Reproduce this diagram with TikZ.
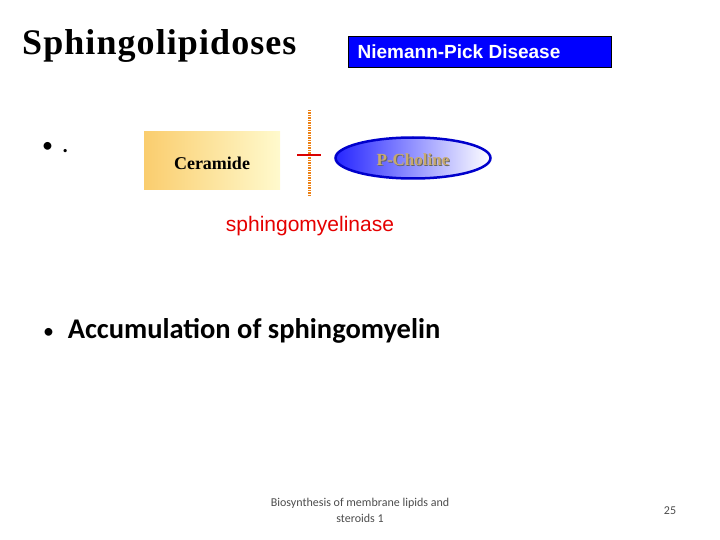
\documentclass[tikz,border=0pt]{standalone}
\usepackage{fontspec}
\setsansfont{Liberation Sans}
\setmainfont{Liberation Serif}
\newfontfamily\calibri{Carlito}
\usetikzlibrary{shapes.geometric}
\definecolor{cerorange}{RGB}{250,205,110}
\definecolor{ceryellow}{RGB}{255,250,205}
\definecolor{chotan}{RGB}{200,170,110}
\begin{document}
\begin{tikzpicture}[x=1pt,y=-1pt]
    \useasboundingbox (0,0) rectangle (720,540);
    % Titel
    \node (title) [anchor=west, inner sep=0pt] at (22,46) {\bfseries\fontsize{36}{40}\selectfont\addfontfeature{LetterSpace=3}Sphingolipidoses};
    \node (disease) [fill=blue, draw=black, minimum width=263pt, minimum height=31pt, inner sep=0pt] at (479.5,51.5) {};
    \node [text=white, font=\sffamily\bfseries\fontsize{19}{22}\selectfont] at (459,52) {Niemann-Pick Disease};
    \node (dot) [anchor=west, inner sep=0pt] at (42,148) {\calibri\fontsize{22}{30}\selectfont •\ \,{\fontsize{27}{30}\selectfont .}};
    % Molekuel
    \node (ceramide) [left color=cerorange, right color=ceryellow, minimum width=136pt, minimum height=58pt, inner sep=0pt] at (212,161) {};
    \node at (212,163) {\bfseries\fontsize{18}{20}\selectfont Ceramide};
    \draw [orange!70!brown, line width=3pt, dash pattern=on 1.5pt off 1pt] (309,110) -- (309,196);
    \draw [red!85!black, line width=2.5pt] (297,155) -- (321,155);
    \node (choline) [ellipse, draw=blue!80!black, line width=2.5pt, left color=blue!85, right color=white,
        minimum width=155pt, minimum height=41pt] at (413,158) {};
    \node [text=black!60] at (414,161) {\bfseries\fontsize{17}{19}\selectfont P-Choline};
    \node [text=chotan] at (413,160) {\bfseries\fontsize{17}{19}\selectfont P-Choline};
    % Enzym
    \node (enzyme) [text=red!90!black, font=\sffamily\fontsize{21}{24}\selectfont] at (310,226) {sphingomyelinase};
    \node (accum) [anchor=west, inner sep=0pt] at (43,331) {\calibri\fontsize{22}{30}\selectfont •\ \ \,{\fontsize{28.5}{30}\selectfont\textbf{Accumulation of sphingomyelin}}};
    % Fusszeile
    \node (footer) [align=center, text=black!70, font=\calibri\fontsize{12}{16}\selectfont] at (360,510) {Biosynthesis of membrane lipids and\\steroids 1};
    \node (page) [text=black!70, font=\calibri\fontsize{12}{14}\selectfont] at (670,511) {25};
\end{tikzpicture}
\end{document}
